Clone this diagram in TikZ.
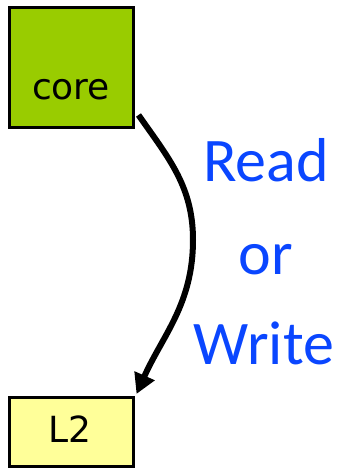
\documentclass[tikz,border=0pt]{standalone}
\usepackage{fontspec}
\setmainfont{DejaVu Sans}
\newfontfamily\labelfont{Carlito}
\usetikzlibrary{arrows.meta}
\definecolor{coregreen}{HTML}{99CC00}
\definecolor{l2yellow}{HTML}{FFFF99}
\definecolor{rwblue}{HTML}{0A46FF}
\begin{document}
\begin{tikzpicture}[x=1pt,y=1pt,
  boxstyle/.style={draw=black, line width=3pt, inner sep=0pt},
  boxtext/.style={font=\fontsize{36}{42}\selectfont, inner sep=0pt, anchor=base},
  rwtext/.style={font=\labelfont\fontsize{62}{72}\selectfont, text=rwblue, inner sep=0pt, anchor=base},
  conn/.style={line width=6pt, -{Triangle[length=20pt,width=21pt]}}]
\useasboundingbox (0,0) rectangle (339,469);
\node[boxstyle, fill=coregreen, minimum width=124pt, minimum height=120pt] (core) at (71.5,401.5) {};
\node[boxtext] (coretext) at (71,369) {core};
\node[boxstyle, fill=l2yellow, minimum width=124pt, minimum height=69pt] (L2) at (71.5,37) {};
\node[boxtext] (l2text) at (70,26) {L2};
\node[rwtext] (read) at (266,287) {Read};
\node[rwtext] (or) at (266,194) {or};
\node[rwtext] (write) at (264,104) {Write};
\coordinate (bend) at (193,229);
\draw[conn] ([xshift=3.5pt,yshift=14pt]core.south east) to[out=-55,in=90] (bend) to[out=-90,in=66] ([xshift=1.5pt,yshift=2pt]L2.north east);
\end{tikzpicture}
\end{document}
